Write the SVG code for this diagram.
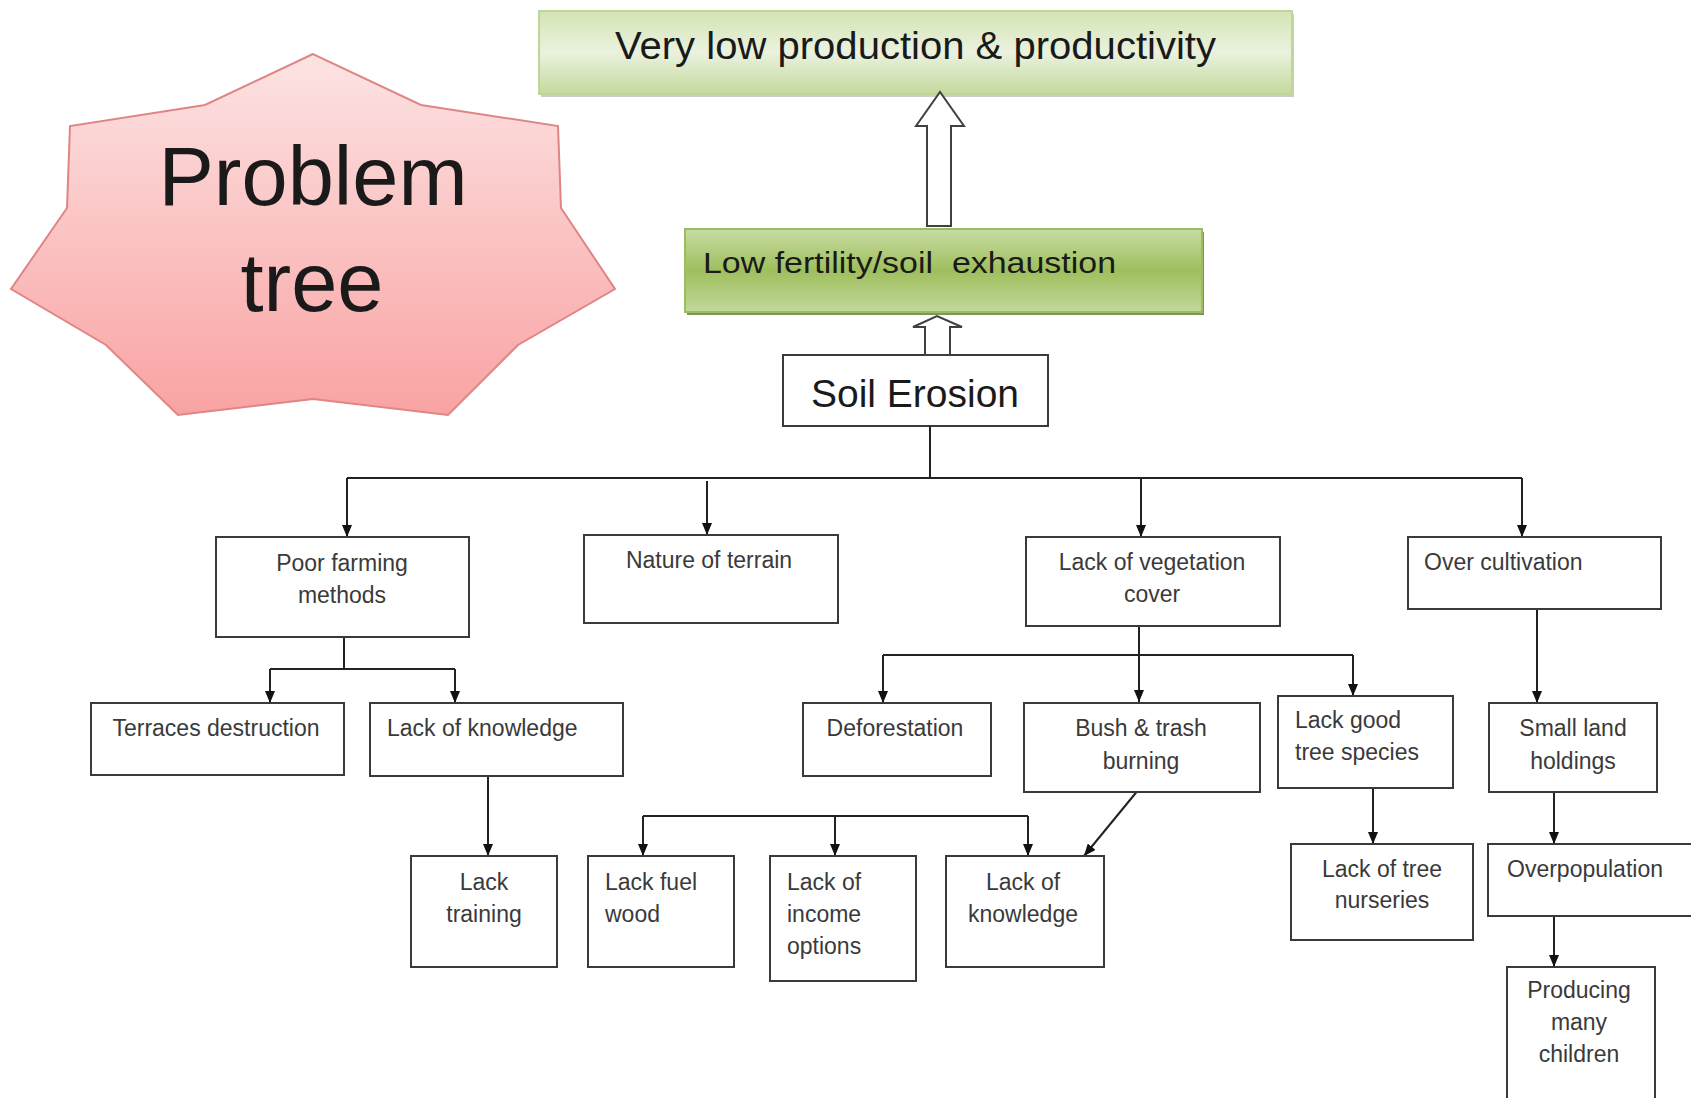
<svg xmlns="http://www.w3.org/2000/svg" width="1691" height="1098" viewBox="0 0 1691 1098">
<defs>
  <linearGradient id="starGrad" x1="0" y1="0" x2="0" y2="1">
    <stop offset="0" stop-color="#fde3e3"/>
    <stop offset="1" stop-color="#f9a3a3"/>
  </linearGradient>
  <linearGradient id="topGrad" x1="0" y1="0" x2="0" y2="1">
    <stop offset="0" stop-color="#d3e4b4"/>
    <stop offset="0.5" stop-color="#eaf2de"/>
    <stop offset="1" stop-color="#c4d99c"/>
  </linearGradient>
  <linearGradient id="midGrad" x1="0" y1="0" x2="0" y2="1">
    <stop offset="0" stop-color="#c7dca4"/>
    <stop offset="0.5" stop-color="#9fbf5c"/>
    <stop offset="1" stop-color="#c2d89c"/>
  </linearGradient>
  <marker id="arr" viewBox="0 0 12 10" refX="12" refY="5" markerWidth="12" markerHeight="10" markerUnits="userSpaceOnUse" orient="auto">
    <path d="M0,0 L12,5 L0,10 z" fill="#111"/>
  </marker>
  <style>
    .box { fill: #ffffff; stroke: #3a3a3a; stroke-width: 2; }
    .lbl { font-family: "Liberation Sans", Arial, sans-serif; font-size: 23px; fill: #3a3a3a; }
    .c { text-anchor: middle; }
    .big { font-family: "Liberation Sans", Arial, sans-serif; fill: #1a1a1a; }
    .ln { fill: none; stroke: #222; stroke-width: 2; }
    .la { fill: none; stroke: #222; stroke-width: 2; marker-end: url(#arr); }
    .block { fill: #ffffff; stroke: #404040; stroke-width: 2; }
  </style>
</defs>
<rect width="1691" height="1098" fill="#ffffff"/>

<g id="star">
  <polygon points="313,54 205,105 70,126 67,208 11,289 106,345 178,415 313,399 448,415 518,345 615,289 561,208 558,126 421,105" fill="url(#starGrad)" stroke="#e08585" stroke-width="2"/>
  <text class="big" x="313" y="205" font-size="83" text-anchor="middle">Problem</text>
  <text class="big" x="312" y="311" font-size="83" text-anchor="middle">tree</text>
</g>

<g id="very-low">
  <rect x="541" y="14" width="753" height="83" fill="#a9ad9c" opacity="0.6"/>
  <rect x="539" y="11" width="753" height="83" fill="url(#topGrad)" stroke="#bfd59a" stroke-width="2"/>
  <text class="big" x="615" y="59" font-size="38" textLength="601" lengthAdjust="spacingAndGlyphs">Very low production &amp; productivity</text>
</g>

<g id="low-fertility">
  <rect x="687" y="232" width="517" height="83" fill="#5e7a30" opacity="0.8"/>
  <rect x="685" y="229" width="517" height="83" fill="url(#midGrad)" stroke="#9dbb62" stroke-width="2"/>
  <text class="big" x="703" y="273" font-size="30" xml:space="preserve" textLength="413" lengthAdjust="spacingAndGlyphs">Low fertility/soil  exhaustion</text>
</g>

<g id="soil-erosion">
  <rect class="box" x="783" y="355" width="265" height="71"/>
  <text class="big" x="915" y="407" font-size="39" text-anchor="middle">Soil Erosion</text>
</g>

<g id="block-arrows">
  <polygon class="block" points="927,226 951,226 951,126 964,126 940,92 916,126 927,126"/>
  <polygon class="block" points="925,355 950,355 950,327 962,327 937,316 913,327 925,327"/>
</g>

<g id="connectors">
  <path class="ln" d="M930,426 V478"/>
  <path class="ln" d="M347,478 H1522"/>
  <path class="la" d="M347,478 V537"/>
  <path class="la" d="M707,481 V535"/>
  <path class="la" d="M1141,478 V537"/>
  <path class="la" d="M1522,478 V537"/>
  <path class="ln" d="M344,637 V669 M270,669 H455"/>
  <path class="la" d="M270,669 V703"/>
  <path class="la" d="M455,669 V703"/>
  <path class="la" d="M488,770 V856"/>
  <path class="la" d="M1139,626 V702"/>
  <path class="ln" d="M883,655 H1353"/>
  <path class="la" d="M883,655 V703"/>
  <path class="la" d="M1353,655 V696"/>
  <path class="la" d="M1373,788 V844"/>
  <path class="la" d="M1537,609 V703"/>
  <path class="la" d="M1554,792 V844"/>
  <path class="la" d="M1554,916 V967"/>
  <path class="ln" d="M643,816 H1028"/>
  <path class="la" d="M643,816 V856"/>
  <path class="la" d="M835,816 V856"/>
  <path class="la" d="M1028,816 V856"/>
  <path class="la" d="M1139,789 L1084,856"/>
</g>

<g id="poor-farming">
  <rect class="box" x="216" y="537" width="253" height="100"/>
  <text class="lbl c" x="342" y="571">Poor farming</text>
  <text class="lbl c" x="342" y="603">methods</text>
</g>
<g id="nature-terrain">
  <rect class="box" x="584" y="535" width="254" height="88"/>
  <text class="lbl c" x="709" y="568">Nature of terrain</text>
</g>
<g id="lack-vegetation">
  <rect class="box" x="1026" y="537" width="254" height="89"/>
  <text class="lbl c" x="1152" y="570">Lack of vegetation</text>
  <text class="lbl c" x="1152" y="602">cover</text>
</g>
<g id="over-cultivation">
  <rect class="box" x="1408" y="537" width="253" height="72"/>
  <text class="lbl" x="1424" y="570">Over cultivation</text>
</g>
<g id="terraces">
  <rect class="box" x="91" y="703" width="253" height="72"/>
  <text class="lbl c" x="216" y="736">Terraces destruction</text>
</g>
<g id="lack-knowledge-1">
  <rect class="box" x="370" y="703" width="253" height="73"/>
  <text class="lbl" x="387" y="736">Lack of knowledge</text>
</g>
<g id="deforestation">
  <rect class="box" x="803" y="703" width="188" height="73"/>
  <text class="lbl c" x="895" y="736">Deforestation</text>
</g>
<g id="bush-burning">
  <rect class="box" x="1024" y="703" width="236" height="89"/>
  <text class="lbl c" x="1141" y="736">Bush &amp; trash</text>
  <text class="lbl c" x="1141" y="769">burning</text>
</g>
<g id="lack-good-tree">
  <rect class="box" x="1278" y="696" width="175" height="92"/>
  <text class="lbl" x="1295" y="728">Lack good</text>
  <text class="lbl" x="1295" y="760">tree species</text>
</g>
<g id="small-land">
  <rect class="box" x="1489" y="703" width="168" height="89"/>
  <text class="lbl c" x="1573" y="736">Small land</text>
  <text class="lbl c" x="1573" y="769">holdings</text>
</g>
<g id="lack-training">
  <rect class="box" x="411" y="856" width="146" height="111"/>
  <text class="lbl c" x="484" y="890">Lack</text>
  <text class="lbl c" x="484" y="922">training</text>
</g>
<g id="lack-fuel">
  <rect class="box" x="588" y="856" width="146" height="111"/>
  <text class="lbl" x="605" y="890">Lack fuel</text>
  <text class="lbl" x="605" y="922">wood</text>
</g>
<g id="lack-income">
  <rect class="box" x="770" y="856" width="146" height="125"/>
  <text class="lbl" x="787" y="890">Lack of</text>
  <text class="lbl" x="787" y="922">income</text>
  <text class="lbl" x="787" y="954">options</text>
</g>
<g id="lack-knowledge-2">
  <rect class="box" x="946" y="856" width="158" height="111"/>
  <text class="lbl c" x="1023" y="890">Lack of</text>
  <text class="lbl c" x="1023" y="922">knowledge</text>
</g>
<g id="tree-nurseries">
  <rect class="box" x="1291" y="844" width="182" height="96"/>
  <text class="lbl c" x="1382" y="877">Lack of tree</text>
  <text class="lbl c" x="1382" y="908">nurseries</text>
</g>
<g id="overpopulation">
  <rect class="box" x="1488" y="844" width="215" height="72"/>
  <text class="lbl" x="1507" y="877">Overpopulation</text>
</g>
<g id="producing-children">
  <rect class="box" x="1507" y="967" width="148" height="140"/>
  <text class="lbl c" x="1579" y="998">Producing</text>
  <text class="lbl c" x="1579" y="1030">many</text>
  <text class="lbl c" x="1579" y="1062">children</text>
</g>
</svg>
